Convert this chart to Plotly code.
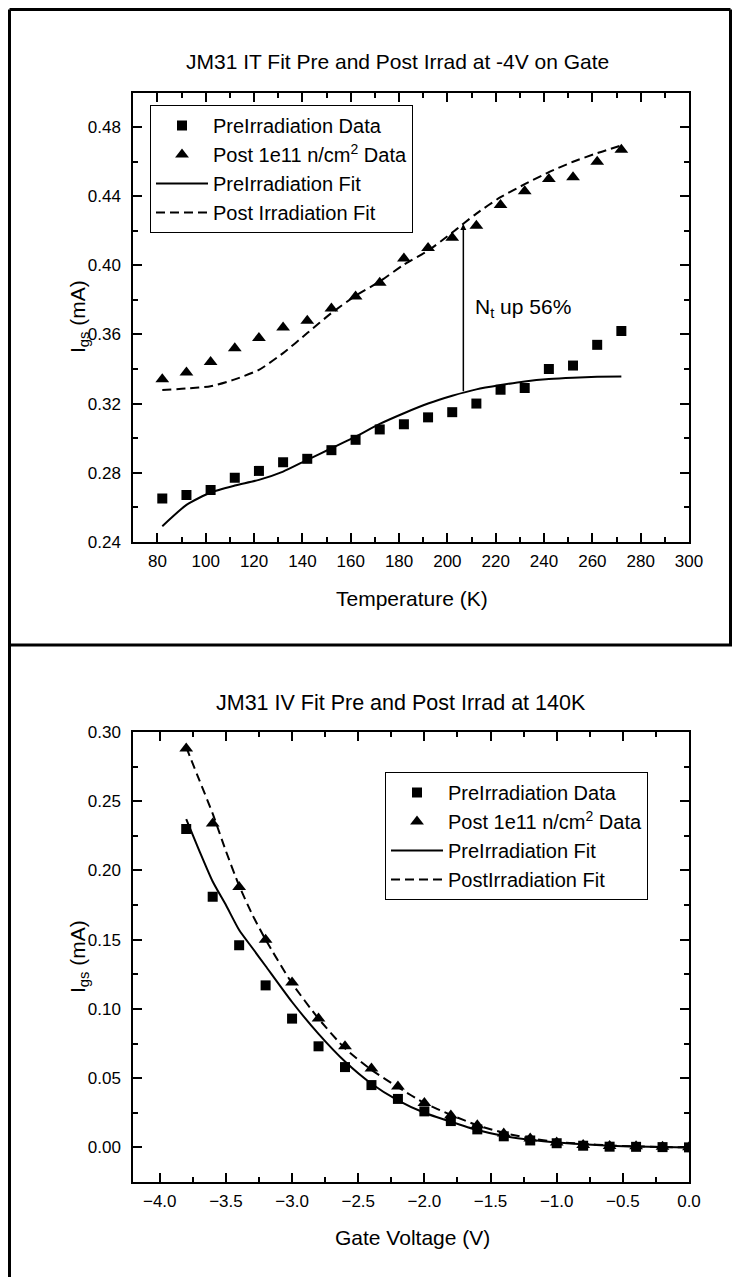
import plotly.graph_objects as go

# ---------------- data: top panel (I vs T at -4 V) ----------------
temp_data = [82, 92, 102, 112, 122, 132, 142, 152, 162, 172,
             182, 192, 202, 212, 222, 232, 242, 252, 262, 272]
pre_it_data = [0.265, 0.267, 0.270, 0.277, 0.281, 0.286, 0.288, 0.293, 0.299, 0.305,
               0.308, 0.312, 0.315, 0.320, 0.328, 0.329, 0.340, 0.342, 0.354, 0.362]
post_it_data = [0.334, 0.338, 0.344, 0.352, 0.358, 0.364, 0.368, 0.375, 0.382, 0.390,
                0.404, 0.410, 0.416, 0.423, 0.435, 0.443, 0.450, 0.451, 0.460, 0.467]
temp_fit = temp_data
pre_it_fit = [0.249, 0.2613, 0.2685, 0.2725, 0.2758, 0.2806, 0.2874, 0.2941, 0.3009, 0.3082,
              0.3144, 0.3200, 0.3245, 0.3282, 0.3307, 0.3328, 0.3342, 0.3350, 0.3355, 0.3357]
post_it_fit = [0.3279, 0.3287, 0.3300, 0.3340, 0.3395, 0.3492, 0.3608, 0.3724, 0.3824, 0.3907,
               0.4004, 0.4085, 0.4190, 0.4300, 0.4395, 0.4470, 0.4540, 0.4600, 0.4650, 0.4695]
arrow_t = 206.6
arrow_from = 0.3262
arrow_to = 0.424
note_t, note_i = 210.6, 0.3755

# ---------------- data: bottom panel (I vs V at 140 K) ----------------
volt_data = [-3.8, -3.6, -3.4, -3.2, -3.0, -2.8, -2.6, -2.4, -2.2, -2.0,
             -1.8, -1.6, -1.4, -1.2, -1.0, -0.8, -0.6, -0.4, -0.2, 0.0]
pre_iv_data = [0.230, 0.181, 0.146, 0.117, 0.093, 0.073, 0.058, 0.045, 0.035, 0.026,
               0.019, 0.013, 0.008, 0.005, 0.003, 0.0012, 0.0005, 0.0004, 0.0002, 0.0]
post_iv_data = [0.288, 0.234, 0.188, 0.150, 0.119, 0.093, 0.073, 0.057, 0.044, 0.032,
                0.023, 0.016, 0.010, 0.0065, 0.0036, 0.0018, 0.0010, 0.0008, 0.0004, 0.0001]
volt_fit = [-3.8, -3.7, -3.6, -3.5, -3.4, -3.3, -3.2, -3.0, -2.8, -2.6, -2.4, -2.2,
            -2.0, -1.8, -1.6, -1.4, -1.2, -1.0, -0.8, -0.6, -0.4, -0.2, 0.0]
pre_iv_fit = [0.237, 0.214, 0.192, 0.175, 0.157, 0.144, 0.131, 0.105, 0.082, 0.062, 0.046, 0.034,
              0.025, 0.0185, 0.0125, 0.0082, 0.0055, 0.0035, 0.0022, 0.0012, 0.0006, 0.0002, 0.0]
post_iv_fit = [0.289, 0.265, 0.241, 0.214, 0.189, 0.168, 0.150, 0.1185, 0.093, 0.0715, 0.056, 0.0435,
               0.032, 0.0235, 0.016, 0.0105, 0.0065, 0.004, 0.0025, 0.0014, 0.0007, 0.0003, 0.0]

FONT = "Liberation Sans, Arial, sans-serif"
PAGE_W, PAGE_H = 740, 1285
OFF = 8                      # default body margin of the page
W, H = PAGE_W - 2 * OFF, PAGE_H - 2 * OFF
BLACK = "black"


def px(x):
    return (x - OFF) / W


def py(y):
    return 1 - (y - OFF) / H


fig = go.Figure()


def add_set(xd, pre_d, post_d, xf, pre_f, post_f, xa, ya, leg, post_fit_name):
    fig.add_trace(go.Scatter(x=xd, y=pre_d, mode="markers", name="PreIrradiation Data",
                             marker=dict(symbol="square", size=10, color=BLACK),
                             xaxis=xa, yaxis=ya, legend=leg))
    fig.add_trace(go.Scatter(x=xd, y=post_d, mode="markers", name="Post 1e11 n/cm<sup>2</sup> Data",
                             marker=dict(symbol="triangle-up", size=12, color=BLACK),
                             xaxis=xa, yaxis=ya, legend=leg))
    fig.add_trace(go.Scatter(x=xf, y=pre_f, mode="lines", name="PreIrradiation Fit",
                             line=dict(color=BLACK, width=2, shape="spline", smoothing=0.6),
                             xaxis=xa, yaxis=ya, legend=leg))
    fig.add_trace(go.Scatter(x=xf, y=post_f, mode="lines", name=post_fit_name,
                             line=dict(color=BLACK, width=2, dash="9px,5px", shape="spline", smoothing=0.6),
                             xaxis=xa, yaxis=ya, legend=leg))


add_set(temp_data, pre_it_data, post_it_data, temp_fit, pre_it_fit, post_it_fit,
        "x", "y", "legend", "Post Irradiation Fit")
add_set(volt_data, pre_iv_data, post_iv_data, volt_fit, pre_iv_fit, post_iv_fit,
        "x2", "y2", "legend2", "PostIrradiation Fit")

xdom = [px(133.3), px(689)]
top_dom = [py(541.7), py(92.7)]
bot_dom = [py(1182), py(732)]

minor_common = dict(ticks="inside", ticklen=5, tickwidth=2, tickcolor=BLACK)
axis_common = dict(showline=True, linecolor=BLACK, linewidth=2, mirror="allticks",
                   ticks="inside", ticklen=9, tickwidth=2, tickcolor=BLACK,
                   showgrid=False, zeroline=False, automargin=False,
                   tickfont=dict(family=FONT, size=17, color=BLACK))

legend_common = dict(xanchor="left", yanchor="top", bgcolor="white",
                     bordercolor=BLACK, borderwidth=1,
                     font=dict(family=FONT, size=20, color=BLACK),
                     itemwidth=52, tracegroupgap=0)

fig.update_layout(
    width=W, height=H, autosize=False,
    margin=dict(l=0, r=0, t=0, b=0, pad=0),
    paper_bgcolor="white", plot_bgcolor="white",
    font=dict(family=FONT, color=BLACK),
    xaxis=dict(domain=xdom, anchor="y", range=[70, 300], tick0=0, dtick=20,
               ticklabelstandoff=3,
               minor=dict(dtick=10, **minor_common), **axis_common),
    yaxis=dict(domain=top_dom, anchor="x", range=[0.24, 0.50], tick0=0.24, dtick=0.04,
               tickformat=".2f", ticklabelstandoff=7,
               minor=dict(dtick=0.02, **minor_common), **axis_common),
    xaxis2=dict(domain=xdom, anchor="y2", range=[-4.2, 0.0], tick0=0, dtick=0.5,
                tickformat=".1f", ticklabelstandoff=3,
                minor=dict(dtick=0.25, **minor_common), **axis_common),
    yaxis2=dict(domain=bot_dom, anchor="x2", range=[-0.025, 0.30], tick0=0, dtick=0.05,
                tickformat=".2f", ticklabelstandoff=7,
                minor=dict(dtick=0.025, **minor_common), **axis_common),
    legend=dict(x=px(150), y=py(105), **legend_common),
    legend2=dict(x=px(385), y=py(772), **legend_common),
    showlegend=True,
)

# arrow showing the increase
fig.add_annotation(x=arrow_t, y=arrow_to, ax=arrow_t, ay=arrow_from,
                   xref="x", yref="y", axref="x", ayref="y", text="",
                   showarrow=True, arrowhead=2, arrowsize=0.8, arrowwidth=1.5,
                   arrowcolor=BLACK)
fig.add_annotation(x=note_t, y=note_i, xref="x", yref="y", text="N<sub>t</sub> up 56%",
                   showarrow=False, xanchor="left", yanchor="middle",
                   font=dict(family=FONT, size=21, color=BLACK))


def text_px(txt, x, y, size=21, angle=0):
    fig.add_annotation(x=px(x), y=py(y), xref="paper", yref="paper", text=txt,
                       showarrow=False, xanchor="center", yanchor="middle", textangle=angle,
                       font=dict(family=FONT, size=size, color=BLACK))


text_px("JM31 IT Fit Pre and Post Irrad at -4V on Gate", 397, 62, 21)
text_px("Temperature (K)", 412, 598, 21)
text_px("I<sub>gs</sub> (mA)", 79, 317, 21, -90)
text_px("JM31 IV Fit Pre and Post Irrad at 140K", 401, 703, 21.5)
text_px("Gate Voltage (V)", 412, 1237, 21)
text_px("I<sub>gs</sub> (mA)", 79, 957, 21, -90)


# panel frame lines (page coordinates, clamped to the drawable area)
def line_px(x0, y0, x1, y1):
    fig.add_shape(type="line", xref="paper", yref="paper",
                  x0=px(x0), y0=py(y0), x1=px(x1), y1=py(y1),
                  line=dict(color=BLACK, width=3))


EDGE = OFF + 1.5
line_px(EDGE, EDGE, EDGE, PAGE_H - OFF)
line_px(EDGE, EDGE, PAGE_W - OFF - 1.5, EDGE)
line_px(PAGE_W - OFF - 1.5, EDGE, PAGE_W - OFF - 1.5, 645)
line_px(EDGE, 645, PAGE_W - OFF, 645)

fig.write_html("out.html", config={"displayModeBar": False})
